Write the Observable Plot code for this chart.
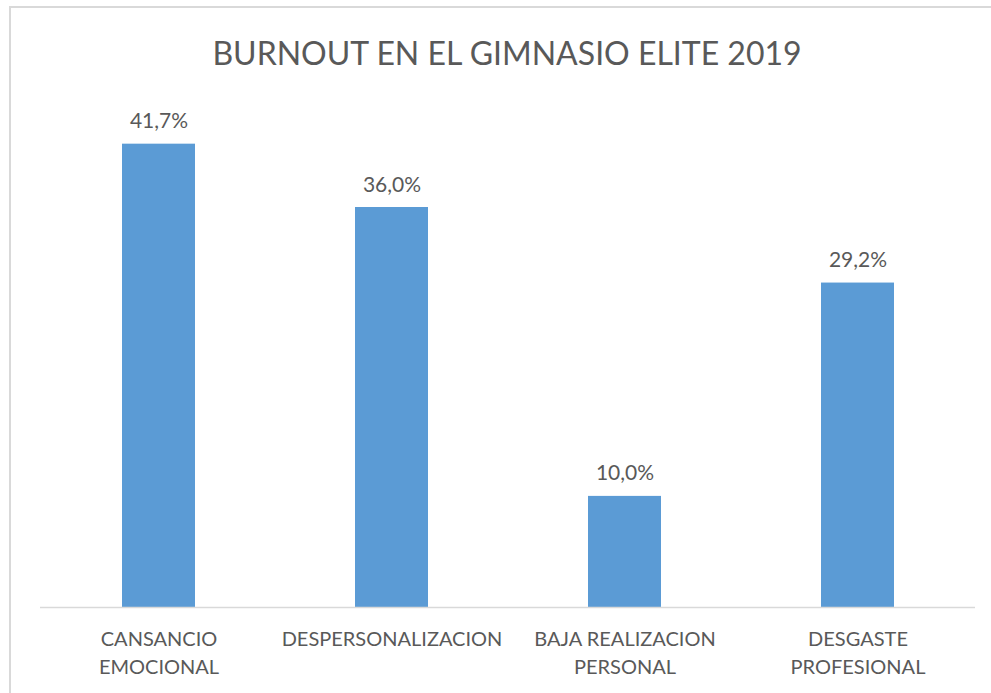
<!DOCTYPE html>
<html>
<head>
<meta charset="utf-8">
<script src="https://cdn.jsdelivr.net/npm/d3@7"></script>
<script src="https://cdn.jsdelivr.net/npm/@observablehq/plot@0.6"></script>
<style>
  html, body { margin: 0; padding: 0; background: #fff; overflow: hidden; }
  #page { position: relative; width: 991px; height: 693px; overflow: hidden; }
  #frame { position: absolute; left: 9px; top: 6px; width: 1000px; height: 700px;
           border-top: 2px solid #d9d9d9; border-left: 2px solid #d9d9d9; }
  #title { position: absolute; left: 0; top: 37px; width: 1014px; text-align: center;
           font-family: Lato, sans-serif; font-size: 32px; line-height: 1; color: #595959; }
  #chart { position: absolute; left: 0; top: 95px; }
</style>
</head>
<body>
<div id="page">
  <div id="frame"></div>
  <div id="title">BURNOUT EN EL GIMNASIO ELITE 2019</div>
  <div id="chart"></div>
</div>
<script>
const categories = ["CANSANCIO EMOCIONAL", "DESPERSONALIZACION", "BAJA REALIZACION PERSONAL", "DESGASTE PROFESIONAL"];
const tickLabels = ["CANSANCIO\nEMOCIONAL", "DESPERSONALIZACION", "BAJA REALIZACION\nPERSONAL", "DESGASTE\nPROFESIONAL"];
const values = [41.7, 36.0, 10.0, 29.2];

const data = categories.map((c, i) => ({category: c, value: values[i], label: values[i].toFixed(1).replace(".", ",") + "%"}));
const tickMap = new Map(categories.map((c, i) => [c, tickLabels[i]]));

const chart = Plot.plot({
  width: 991,
  height: 598,
  marginLeft: 40,
  marginRight: 16,
  marginTop: 12,
  marginBottom: 86,
  style: {fontFamily: "Lato, sans-serif", color: "#595959", background: "transparent"},
  x: {domain: categories, paddingInner: 0.688, paddingOuter: 0.344, label: null},
  y: {domain: [0, 45], axis: null},
  marks: [
    Plot.barY(data, {x: "category", y: "value", fill: "#5b9bd5"}),
    Plot.ruleY([0], {stroke: "#d9d9d9", strokeWidth: 1.5}),
    Plot.text(data, {x: "category", y: "value", text: "label", dy: -16, lineAnchor: "bottom",
                     fontSize: 21, fill: "#595959"}),
    Plot.axisX({tickSize: 0, tickPadding: 19, tickFormat: d => tickMap.get(d), fontSize: 20,
                lineHeight: 1.4, fill: "#595959", label: null})
  ]
});
document.getElementById("chart").appendChild(chart);
</script>
</body>
</html>
